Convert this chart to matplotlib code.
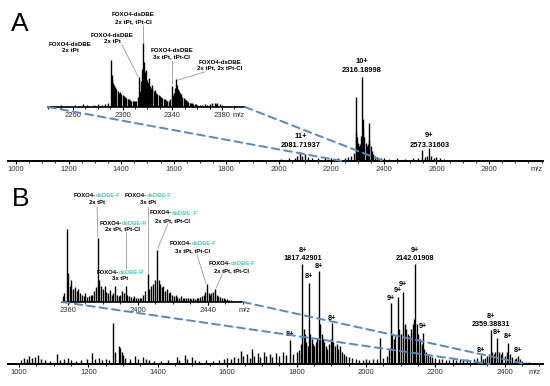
import matplotlib
matplotlib.use("Agg")
import matplotlib.pyplot as plt
from matplotlib.patches import ConnectionPatch
from matplotlib.ticker import MultipleLocator

plt.rcParams['font.family'] = ['Liberation Sans', 'DejaVu Sans']

W, H = 550, 386
DASH_COLOR = '#5a89bd'
TEAL = '#4fc9b9'

# ---------------- Panel A, full spectrum (m/z, relative intensity) ----------------
a_mz = [1050, 1180, 1260, 1330, 1420, 1510, 1600, 1680, 1750, 1820, 1900, 1960,
        2010, 2040, 2060, 2070, 2082, 2090, 2100, 2110, 2125, 2150, 2175, 2200,
        2225, 2250, 2265, 2275, 2285, 2292, 2295, 2298, 2302, 2306, 2310, 2313,
        2316, 2319, 2322, 2326, 2330, 2334, 2338, 2342, 2345, 2349, 2353, 2358,
        2365, 2372, 2380, 2390, 2400, 2420, 2450, 2480, 2510, 2530, 2545, 2555,
        2565, 2573, 2580, 2590, 2600, 2615, 2630, 2660, 2720, 2800, 2900, 2960]
a_int = [1, 1, 1.5, 1, 1, 1, 1, 1.5, 1, 1.5, 1, 1.5,
         2, 3, 4, 6, 11, 6, 8, 5, 4, 3, 3, 4,
         3, 4, 5, 6, 10, 76, 35, 28, 22, 18, 20, 30,
         100, 50, 38, 28, 22, 18, 20, 45, 25, 18, 12, 8,
         6, 5, 4, 3, 3, 2, 3, 2, 3, 4, 13, 5,
         6, 15, 6, 4, 5, 3, 2, 1, 1, 1, 1, 1]
a_ticks = [1000, 1200, 1400, 1600, 1800, 2000, 2200, 2400, 2600, 2800]
a_peak_labels = [(2316, 118, '10+'), (2316, 108, '2316.18998'),
                 (2085, 29, '11+'), (2085, 19, '2081.71937'),
                 (2573, 30, '9+'), (2573, 19, '2573.31603')]

# ---------------- Panel A, zoom 2240-2398 ----------------
ai_mz = [2243, 2247, 2250, 2254, 2258, 2262, 2265, 2268, 2271, 2274, 2277, 2280,
         2283, 2286, 2288, 2290.6, 2291.2, 2291.8, 2292.4, 2293, 2293.6, 2294.2,
         2295, 2296, 2297, 2298, 2299, 2300, 2301, 2302, 2303, 2304, 2305, 2306,
         2307, 2308, 2309, 2310, 2311, 2312, 2313, 2313.6, 2314.3, 2315, 2315.6,
         2316.4, 2317, 2317.6, 2318.2, 2319, 2319.6, 2320.3, 2321, 2321.8, 2322.5,
         2323.3, 2324, 2325, 2326, 2327, 2328, 2329, 2330, 2331, 2332, 2333, 2334,
         2335, 2336, 2337, 2338, 2339.7, 2340.5, 2341.3, 2342, 2343, 2343.7, 2344.5,
         2345.3, 2346, 2347, 2348, 2349, 2350, 2351, 2352, 2353, 2354, 2355, 2356,
         2357, 2358, 2359, 2360, 2362, 2364, 2366, 2368, 2370, 2372, 2374, 2375,
         2376, 2378, 2380, 2383, 2386, 2390, 2394]
ai_int = [2, 1, 3, 2, 2, 3, 2, 4, 3, 2, 3, 4,
          3, 4, 6, 73, 50, 42, 38, 35, 30, 32,
          28, 25, 22, 24, 20, 18, 17, 15, 14, 13, 12, 11,
          10, 10, 9, 9, 10, 15, 47, 20, 25, 40, 60,
          100, 70, 55, 48, 58, 42, 38, 45, 33, 30,
          35, 28, 25, 27, 22, 20, 18, 17, 15, 14, 13, 12,
          11, 10, 9, 12, 33, 18, 22, 30, 44, 35, 28,
          25, 22, 20, 16, 14, 12, 11, 9, 8, 7, 6, 6,
          5, 4, 4, 3, 3, 3, 4, 3, 5, 6, 7, 5,
          6, 4, 3, 2, 2, 1, 1]
ai_ticks = [2260, 2300, 2340, 2380]
ai_labels = [(2257.6, 98, 89, '2x tPt'),
             (2291.4, 112, 103, '2x tPt'),
             (2308.3, 145, 134, '2x tPt, tPt-Cl'),
             (2339.7, 89, 78, '3x tPt, tPt-Cl'),
             (2378.4, 70, 61, '2x tPt, 2x tPt-Cl')]
ai_leaders = [((2299.5, 97), (2312.3, 48)),
              ((2316.4, 128), (2316.4, 101)),
              ((2339.7, 72), (2339.7, 36)),
              ((2366.3, 55), (2344.5, 42))]

# ---------------- Panel B, full spectrum ----------------
b_mz = [1005, 1015, 1022, 1030, 1038, 1045, 1055, 1062, 1075, 1090, 1110, 1118,
        1130, 1140, 1150, 1165, 1180, 1195, 1210, 1218, 1230, 1240, 1250, 1260,
        1272, 1276, 1288, 1292, 1296, 1300, 1305, 1320, 1335, 1342, 1358, 1365,
        1375, 1390, 1410, 1430, 1455, 1460, 1478, 1485, 1500, 1508, 1520, 1540,
        1560, 1575, 1590, 1600, 1612, 1620, 1630, 1640, 1645, 1658, 1665, 1672,
        1678, 1688, 1695, 1705, 1712, 1722, 1730, 1740, 1750, 1760, 1770, 1781,
        1790, 1800, 1806, 1812, 1817, 1820, 1824, 1828, 1832, 1836, 1839, 1843,
        1847, 1851, 1855, 1860, 1865, 1868, 1872, 1876, 1880, 1884, 1888, 1893,
        1898, 1902, 1906, 1910, 1915, 1920, 1925, 1930, 1936, 1942, 1950, 1960,
        1970, 1980, 1990, 2000, 2010, 2020, 2032, 2040, 2050, 2060, 2066, 2072,
        2076, 2080, 2085, 2092, 2096, 2100, 2107, 2111, 2115, 2120, 2125, 2130,
        2135, 2138, 2142, 2146, 2150, 2155, 2160, 2164, 2168, 2172, 2178, 2185,
        2190, 2200, 2210, 2220, 2230, 2240, 2250, 2260, 2270, 2280, 2290, 2300,
        2310, 2320, 2331, 2336, 2342, 2348, 2354, 2359.4, 2363, 2368, 2372, 2378,
        2382, 2388, 2393, 2400, 2405, 2409, 2414, 2420, 2428, 2433, 2438, 2444,
        2450, 2460, 2470, 2480]
b_int = [4, 6, 5, 8, 6, 7, 9, 5, 4, 3, 10, 4,
         5, 6, 4, 3, 4, 5, 11, 5, 6, 4, 5, 4,
         41, 12, 18, 16, 12, 9, 6, 5, 8, 5, 7, 5,
         4, 3, 3, 4, 7, 4, 9, 5, 7, 4, 3, 4,
         3, 4, 5, 6, 5, 7, 6, 13, 8, 10, 6, 15,
         8, 11, 7, 12, 8, 10, 7, 11, 8, 12, 9, 24,
         10, 12, 14, 20, 100, 35, 30, 22, 18, 81, 30, 25,
         20, 18, 22, 25, 93, 40, 30, 25, 22, 18, 15, 20,
         25, 41, 22, 18, 20, 15, 18, 12, 10, 8, 7, 6,
         5, 4, 4, 5, 4, 5, 5, 26, 6, 8, 15, 61,
         30, 25, 28, 67, 35, 30, 72, 40, 35, 30, 28, 35,
         40, 45, 100, 40, 30, 25, 20, 31, 15, 12, 10, 8,
         7, 6, 5, 5, 4, 4, 5, 4, 5, 4, 5, 4,
         5, 6, 9, 5, 6, 8, 10, 34, 12, 10, 12, 26,
         12, 10, 12, 8, 12, 21, 10, 7, 5, 6, 8, 5,
         3, 2, 2, 1]
b_ticks = [1000, 1200, 1400, 1600, 1800, 2000, 2200, 2400]
b_peak_labels = [(1817, 114, '8+'), (1817, 106, '1817.42901'),
                 (1836, 88, '8+'), (1865, 98, '8+'), (1902, 46, '8+'),
                 (1781, 29, '8+'),
                 (2072, 66, '9+'), (2092, 73, '9+'), (2107, 80, '9+'),
                 (2142, 113, '9+'), (2142, 105, '2142.01908'),
                 (2164, 37, '9+'),
                 (2359.4, 48, '8+'), (2359.4, 40, '2359.38831'),
                 (2378, 31, '8+'), (2409, 27, '8+'), (2438, 14, '8+'),
                 (2331, 14, '8+')]

# ---------------- Panel B, zoom 2357-2460 ----------------
bi_mz = [2357, 2358, 2359.4, 2360, 2361, 2362, 2363, 2364, 2365, 2366, 2367, 2368,
         2369, 2370, 2371, 2372, 2373, 2374, 2375, 2376, 2377, 2378, 2379, 2380,
         2381, 2382, 2383, 2384, 2385, 2386, 2387, 2388, 2389, 2390, 2391, 2392,
         2393, 2394, 2395, 2396, 2397, 2398, 2399, 2400, 2401, 2402, 2403, 2404,
         2405.7, 2406.5, 2407.5, 2408.5, 2409.5, 2410.9, 2411.8, 2412.7, 2413.5,
         2414.5, 2415.5, 2416.5, 2417.5, 2418.5, 2419.5, 2420.5, 2421.5, 2422.5,
         2423.5, 2424.5, 2425.5, 2426.5, 2427.5, 2428.5, 2429.5, 2430.5, 2431.5,
         2432.5, 2433.5, 2434.5, 2435.5, 2436.5, 2437.5, 2438.5, 2439.4, 2440.3,
         2441.2, 2442, 2443, 2444, 2445, 2446, 2447, 2448, 2449, 2450, 2451, 2452,
         2453, 2454, 2455, 2457, 2459]
bi_int = [8, 12, 100, 40, 22, 30, 18, 20, 15, 18, 12, 10,
          8, 12, 7, 8, 10, 9, 15, 20, 87, 30, 22, 18,
          22, 14, 12, 16, 10, 12, 22, 10, 8, 10, 15, 12,
          22, 10, 8, 7, 6, 8, 5, 6, 5, 6, 10, 15,
          39, 18, 22, 25, 30, 71, 30, 25, 20,
          22, 15, 18, 12, 14, 10, 8, 9, 7,
          6, 8, 5, 6, 5, 6, 5, 4, 5,
          4, 5, 6, 7, 8, 10, 14, 24, 12,
          10, 12, 14, 18, 10, 8, 7, 6, 5, 4, 4, 3,
          3, 2, 2, 2, 1]
bi_ticks = [2360, 2400, 2440]
bi_labels = [(2376.6, 146, 136, 'dsDBE-F', '2x tPt'),
             (2405.7, 146, 136, 'dsDBE-F', '3x tPt'),
             (2391.4, 108, 101, 'dsDBE-R', '2x tPt, tPt-Cl'),
             (2420.0, 122, 112, 'dsDBE_F', '2x tPt, tPt-Cl'),
             (2389.7, 40, 32, 'dsDBE-R', '3x tPt'),
             (2431.4, 80, 71, 'dsDBE-F', '3x tPt, tPt-Cl'),
             (2453.7, 53, 43, 'dsDBE-F', '2x tPt, tPt-Cl')]
bi_leaders = [((2376.6, 130), (2377.1, 89)),
              ((2405.7, 130), (2405.7, 40)),
              ((2393.1, 96), (2393.1, 46)),
              ((2417.1, 107), (2411.4, 74)),
              ((2433.7, 65), (2438.9, 25)),
              ((2448.0, 37), (2444.6, 19))]


def axes_px(fig, left, top, right, bottom):
    return fig.add_axes([left / W, 1 - bottom / H, (right - left) / W, (bottom - top) / H])


def spectrum_axes(ax, mz, inten, xlim, ticks, minor, lw_axis, fs, mz_label_x):
    ax.patch.set_visible(False)
    ax.vlines(mz, 0, inten, color='black', lw=1.0)
    ax.set_xlim(*xlim)
    ax.set_ylim(0, 100)
    for s in ['left', 'right', 'top']:
        ax.spines[s].set_visible(False)
    ax.spines['bottom'].set_linewidth(lw_axis)
    ax.set_yticks([])
    ax.set_xticks(ticks)
    ax.set_xticklabels([str(t) for t in ticks])
    if minor:
        ax.xaxis.set_minor_locator(MultipleLocator(minor))
    ax.tick_params(axis='x', which='major', length=2, width=0.8, pad=1.5,
                   labelsize=fs, labelcolor='#333333')
    ax.tick_params(axis='x', which='minor', length=1.2, width=0.6)
    ax.annotate('m/z', xy=(mz_label_x, 0), xycoords=('data', 'axes fraction'),
                xytext=(0, -3.3), textcoords='offset points', ha='center', va='top',
                fontsize=fs, color='#333333')


fig = plt.figure(figsize=(W / 100, H / 100), dpi=100)

# Panel A
ax_a = axes_px(fig, 8, 77, 543, 161)
spectrum_axes(ax_a, a_mz, a_int, (969.6, 3005.3), a_ticks, 50, 1.4, 5.5, 2980)
for x, y, t in a_peak_labels:
    ax_a.text(x, y, t, ha='center', va='center', fontsize=5.4, fontweight='bold')

ax_ai = axes_px(fig, 48, 43, 245, 107)
spectrum_axes(ax_ai, ai_mz, ai_int, (2239.9, 2398.5), ai_ticks, 10, 1.2, 5.5, 2393.5)
for x, y1, y2, t in ai_labels:
    ax_ai.text(x, y1, 'FOXO4-dsDBE', ha='center', va='center', fontsize=4.4, fontweight='bold')
    ax_ai.text(x, y2, t, ha='center', va='center', fontsize=4.4, fontweight='bold')
for (x1, y1), (x2, y2) in ai_leaders:
    ax_ai.plot([x1, x2], [y1, y2], color='#9a9a9a', lw=0.6, clip_on=False)

# Panel B
ax_b = axes_px(fig, 8, 264, 543, 364)
spectrum_axes(ax_b, b_mz, b_int, (968.3, 2510.1), b_ticks, 50, 1.4, 5.5, 2487)
for x, y, t in b_peak_labels:
    ax_b.text(x, y, t, ha='center', va='center', fontsize=5.2, fontweight='bold')

ax_bi = axes_px(fig, 62, 229, 243, 302)
spectrum_axes(ax_bi, bi_mz, bi_int, (2356.6, 2460.0), bi_ticks, 10, 1.2, 5.5, 2461)
for x, y1, y2, name, t in bi_labels:
    left = ax_bi.text(x - 0.8, y1, 'FOXO4-', ha='right', va='center', fontsize=4.2,
                      fontweight='bold')
    ax_bi.annotate(name, xy=(1, 0), xycoords=left, va='bottom', ha='left', fontsize=4.2,
                   fontweight='bold', color=TEAL)
    ax_bi.text(x, y2, t, ha='center', va='center', fontsize=4.2, fontweight='bold')
for (x1, y1), (x2, y2) in bi_leaders:
    ax_bi.plot([x1, x2], [y1, y2], color='#9a9a9a', lw=0.6, clip_on=False)

# dashed zoom connectors
for inset, main, lo, hi in [(ax_ai, ax_a, 2239.9, 2398.5), (ax_bi, ax_b, 2356.6, 2460.0)]:
    for x in (lo, hi):
        con = ConnectionPatch(xyA=(x, 0), coordsA=inset.transData,
                              xyB=(x, 0), coordsB=main.transData,
                              color=DASH_COLOR, lw=1.4, linestyle=(0, (4, 2.5)))
        fig.add_artist(con)

fig.text(20 / W, 1 - 24 / H, 'A', fontsize=19, ha='center', va='center')
fig.text(21 / W, 1 - 199 / H, 'B', fontsize=19, ha='center', va='center')

fig.savefig('out.png', dpi=100)
